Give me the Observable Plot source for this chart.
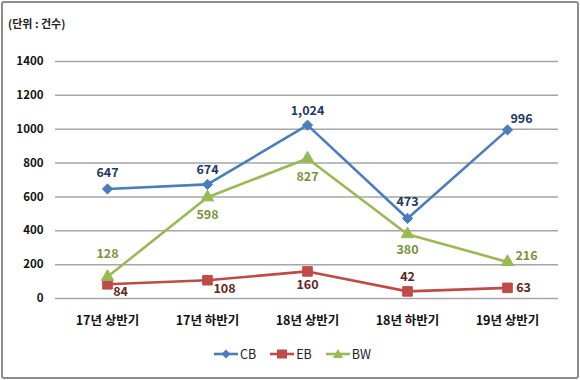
<!DOCTYPE html>
<html>
<head>
<meta charset="utf-8">
<script src="https://cdn.jsdelivr.net/npm/d3@7"></script>
<script src="https://cdn.jsdelivr.net/npm/@observablehq/plot@0.6"></script>
<style>
  html, body { margin: 0; padding: 0; background: #fff; }
  #wrap { position: relative; width: 580px; height: 380px; overflow: hidden; font-family: "Noto Sans CJK KR", "Noto Sans", sans-serif; }
  #frame { position: absolute; left: 1px; top: 1px; width: 574px; height: 374px; border: 2px solid #8c8c8c; border-radius: 3px; pointer-events: none; }
  #title { position: absolute; left: 8px; top: 15px; font-size: 11px; font-weight: bold; color: #222; }
  #chart { position: absolute; left: 0; top: 0; }
  #legend { position: absolute; left: 214px; top: 344px; display: flex; gap: 14px; font-size: 12.5px; color: #222; align-items: center; }
  #legend .item { display: flex; align-items: center; gap: 2px; }
</style>
</head>
<body>
<div id="wrap">
  <div id="chart"></div>
  <div id="title">(단위 : 건수)</div>
  <div id="legend"></div>
  <div id="frame"></div>
</div>
<script>
const categories = ["17년 상반기", "17년 하반기", "18년 상반기", "18년 하반기", "19년 상반기"];
const seriesNames = ["CB", "EB", "BW"];
const cbValues = [647, 674, 1024, 473, 996];
const ebValues = [84, 108, 160, 42, 63];
const bwValues = [128, 598, 827, 380, 216];
const yTicks = [0, 200, 400, 600, 800, 1000, 1200, 1400];

const lineColors = { CB: "#4a7ebb", EB: "#be4b48", BW: "#98b954" };
const labelColors = { CB: "#1f3864", EB: "#632523", BW: "#77933c" };
const symbols = { CB: "diamond2", EB: "square", BW: "triangle" };
const symbolR = { CB: 4.6, EB: 5.4, BW: 4.6 };

// label offsets [dx, dy] per series per category
const labelOffsets = {
  CB: [[0, -16], [0, -14], [0, -14], [0, -16], [14, -11]],
  EB: [[13, 8], [17, 9], [0, 14], [0, -14], [16, 0]],
  BW: [[0, -23], [0, 18], [0, 18], [0, 16], [19, -6]]
};

const valuesBy = { CB: cbValues, EB: ebValues, BW: bwValues };
const data = [];
for (const s of seriesNames) {
  valuesBy[s].forEach((v, i) => data.push({ series: s, cat: categories[i], value: v, dx: labelOffsets[s][i][0], dy: labelOffsets[s][i][1] }));
}

const fmt = d3.format(",");
const marks = [
  Plot.ruleY(yTicks, { stroke: "#a6a6a6", strokeWidth: 1.5 }),
  Plot.axisY({ ticks: yTicks, tickSize: 0, tickPadding: 12, tickFormat: d => String(d), fontSize: 11.5, fontWeight: "bold", fill: "#111", label: null }),
  Plot.axisX({ tickSize: 0, tickPadding: 18, fontSize: 12.5, fontWeight: "bold", fill: "#111", label: null })
];
for (const s of seriesNames) {
  const d = data.filter(r => r.series === s);
  marks.push(Plot.line(d, { x: "cat", y: "value", stroke: lineColors[s], strokeWidth: 2.6 }));
  marks.push(Plot.dot(d, { x: "cat", y: "value", symbol: symbols[s], r: symbolR[s], fill: lineColors[s], stroke: lineColors[s], strokeWidth: 1 }));
}
for (const s of seriesNames) {
  const d = data.filter(r => r.series === s);
  for (const r of d) {
    marks.push(Plot.text([r], { x: "cat", y: "value", text: q => fmt(q.value), dx: r.dx, dy: r.dy, fill: labelColors[s], fontSize: 12.5, fontWeight: "bold" }));
  }
}

const chart = Plot.plot({
  width: 580,
  height: 340,
  marginLeft: 55,
  marginRight: 22,
  marginTop: 61,
  marginBottom: 42,
  style: { fontFamily: "'Noto Sans CJK KR', 'Noto Sans', sans-serif", background: "transparent" },
  x: { type: "point", domain: categories, padding: 0.5 },
  y: { domain: [0, 1400] },
  marks
});
document.getElementById("chart").appendChild(chart);

// legend
const legend = document.getElementById("legend");
const shapes = {
  CB: '<path d="M12,1.5 L16.5,6 L12,10.5 L7.5,6 Z" />',
  EB: '<rect x="7" y="1.5" width="10" height="9" />',
  BW: '<path d="M12,1 L17,10 L7,10 Z" />'
};
for (const s of seriesNames) {
  const item = document.createElement("div");
  item.className = "item";
  item.innerHTML = `<svg width="24" height="12"><line x1="0" x2="24" y1="6" y2="6" stroke="${lineColors[s]}" stroke-width="2.6"/><g fill="${lineColors[s]}">${shapes[s]}</g></svg><span>${s}</span>`;
  legend.appendChild(item);
}
</script>
</body>
</html>
